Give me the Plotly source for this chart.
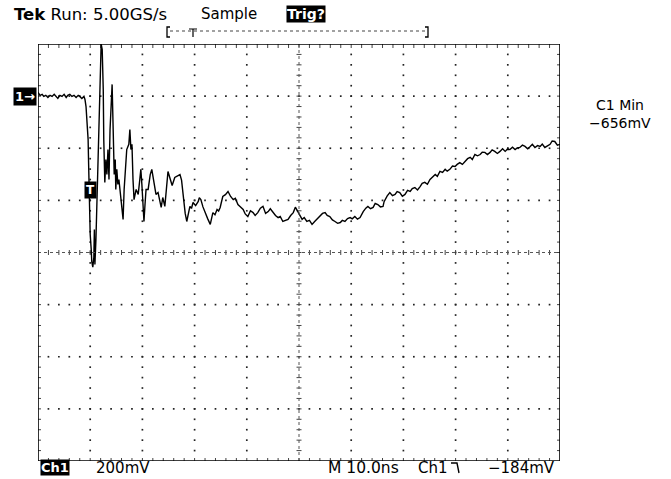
import plotly.graph_objects as go

# ---------------- data (read from the scope screen) ----------------
# time relative to trigger in ns (10 ns/div), Ch1 amplitude in mV (200 mV/div)
time_ns = [
    -10.0, -9.6, -9.2, -8.9, -8.5, -8.1, -7.7, -7.3, -6.9, -6.6, -6.2, -5.8, -5.4,
    -5.0, -4.6, -4.3, -3.9, -3.5, -3.1, -2.7, -2.3, -2.0, -1.6, -1.2, -1.0,
    -0.8, -0.6, -0.4, -0.3, -0.2, 0.0, 0.2, 0.3, 0.5, 0.7, 0.8, 0.9, 1.1, 1.3,
    1.5, 1.7, 1.9, 2.1, 2.3, 2.5, 2.6, 2.7, 2.8, 3.0, 3.2, 3.4, 3.6, 3.8, 4.0,
    4.2, 4.4, 4.6, 4.8, 4.9, 5.1, 5.3, 5.5, 5.9, 6.1, 6.3, 6.5, 6.7, 7.0, 7.4,
    7.6, 7.8, 8.0, 8.2, 8.4, 8.8, 9.2, 9.5, 9.7, 9.9, 10.1, 10.3, 10.5, 10.7,
    11.1, 11.5, 11.8, 12.2, 12.4, 12.6, 13.0, 13.6, 13.9, 14.3, 14.9, 15.7, 16.2,
    17.2, 17.5, 17.8, 18.2, 18.5, 18.8, 19.1, 19.4, 19.7, 20.2, 20.7, 20.9, 21.2,
    21.6, 22.0, 22.5, 23.0, 23.2, 23.5, 23.9, 24.3, 24.6, 24.9, 25.1, 25.4, 25.9,
    26.4, 26.9, 27.4, 27.8, 28.3, 28.8, 29.3, 29.7, 30.2, 30.7, 31.2, 31.6, 32.1,
    32.6, 33.1, 33.6, 34.1, 34.5, 35.0, 35.5, 36.0, 36.4, 36.9, 37.4, 37.9, 38.4,
    38.9, 39.3, 39.8, 40.2, 40.6, 41.0, 41.5, 42.0, 42.5, 43.0, 43.4, 43.7, 44.0,
    44.5, 45.0, 45.4, 45.9, 46.4, 46.9, 47.4, 47.9, 48.3, 48.8, 49.3, 49.8, 50.2,
    50.7, 51.2, 51.7, 52.0, 52.3, 52.8, 53.2, 53.7, 54.2, 54.6, 55.1, 55.6, 56.1,
    56.3, 56.5, 56.9, 57.4, 57.9, 58.4, 58.8, 59.3, 59.8, 60.3, 60.8, 61.3, 61.7,
    62.2, 62.7, 63.2, 63.6, 64.1, 64.6, 65.1, 65.6, 66.1, 66.5, 67.0, 67.5, 68.0,
    68.4, 68.9, 69.4, 69.9, 70.3, 70.8, 71.3, 71.8, 72.3, 72.8, 73.2, 73.7, 74.2,
    74.7, 75.1, 75.6, 76.1, 76.6, 77.0, 77.5, 78.0, 78.5, 79.0, 79.5, 79.9, 80.4,
    80.9, 81.4, 81.8, 82.3, 82.8, 83.3, 83.8, 84.3, 84.7, 85.2, 85.7, 86.2, 86.6,
    87.1, 87.6, 88.1, 88.5, 89.0, 89.5, 90.0,
]
ch1_mV = [
    14, 3, 7, -1, 3, -5, 3, -1, 7, -1, -9, 3, -1,
    7, -5, 3, 7, -1, 3, -5, 3, -1, -9, -1, -13,
    -40, -89, -166, -262, -397, -531, -589, -635, -656, -619, -512, -646, -550, -397,
    -205, -13, 141, 200, 179, 26, -166, -281, -331, -243, -301, -205, -320, -128, -13,
    45, -128, -301, -243, -358, -281, -339, -320, -397, -435, -473, -358, -301, -205, -185,
    -128, -205, -185, -320, -397, -358, -377, -320, -281, -339, -397, -481, -416, -358,
    -358, -301, -281, -339, -358, -377, -370, -427, -389, -423, -289, -343, -312,
    -301, -322, -385, -450, -481, -455, -423, -431, -408, -420, -404, -390, -397,
    -425, -447, -470, -492, -476, -447, -455, -435, -441, -427, -410, -385, -378,
    -366, -385, -397, -392, -416, -425, -435, -452, -462, -440, -447, -458, -447,
    -430, -423, -450, -443, -432, -447, -458, -466, -462, -481, -476, -473, -458,
    -447, -426, -443, -460, -473, -466, -481, -477, -492, -481, -473, -466, -462,
    -450, -447, -458, -462, -475, -481, -488, -485, -477, -481, -470, -466, -471,
    -462, -472, -466, -452, -443, -430, -423, -432, -427, -412, -416, -425, -423,
    -405, -397, -383, -370, -382, -377, -366, -370, -384, -377, -362, -366, -355,
    -351, -360, -347, -335, -331, -338, -320, -312, -301, -308, -289, -293, -281,
    -288, -281, -268, -270, -262, -255, -262, -251, -240, -235, -243, -224, -229,
    -224, -215, -216, -224, -216, -206, -212, -220, -212, -202, -212, -204, -205,
    -196, -205, -199, -197, -188, -193, -202, -193, -185, -197, -190, -193, -184,
    -197, -192, -185, -172, -174, -188, -185,
]

header_left = "<b>Tek</b> Run: 5.00GS/s"
header_mode = "Sample"
header_trig = "<b>Trig?</b>"
meas_label = "C1 Min"
meas_value = "\u2212656mV"
ch_label = "Ch1"
ch_scale = "200mV"
time_scale = "M 10.0ns"
trig_src = "Ch1"
trig_level = "\u2212184mV"

# ---------------- screen geometry ----------------
W, H = 671, 479
L, R, T, B = 38, 560, 44, 461           # graticule frame in pixels
XMIN, XMAX = -10.0, 90.0                # 10 divisions x 10 ns
YMIN, YMAX = -1400.0, 200.0             # 8 divisions x 200 mV
XDIV, YDIV = 10.0, 200.0
XC, YC = 40.0, -600.0                   # screen centre in data units
px_x = (XMAX - XMIN) / (R - L)          # ns per pixel
px_y = (YMAX - YMIN) / (B - T)          # mV per pixel


def PX(p):
    return (p - L) / (R - L)


def PY(p):
    return (B - p) / (B - T)


FONT = "DejaVu Sans"

fig = go.Figure()

# --- grid dots on the major division lines ---
gx, gy = [], []
for i in range(1, 10):
    if i == 5:
        continue
    xv = XMIN + i * XDIV
    for k in range(1, 40):
        gx.append(xv)
        gy.append(YMIN + k * YDIV / 5)
for j in range(1, 8):
    if j == 4:
        continue
    yv = YMIN + j * YDIV
    for k in range(1, 50):
        gx.append(XMIN + k * XDIV / 5)
        gy.append(yv)
fig.add_trace(go.Scatter(x=gx, y=gy, mode="markers",
                         marker=dict(symbol="square", size=1.7, color="#222222", line_width=0),
                         hoverinfo="skip", showlegend=False))

# --- tick marks: centre cross and frame edges ---
tx, ty = [], []
for k in range(1, 50):
    xv = XMIN + k * XDIV / 5
    # centre horizontal axis
    tx += [xv, xv, None]; ty += [YC - 2.5 * px_y, YC + 2.5 * px_y, None]
    # top edge (down)
    tx += [xv, xv, None]; ty += [YMAX, YMAX - 4 * px_y, None]
    # bottom edge (up)
    tx += [xv, xv, None]; ty += [YMIN, YMIN + 3 * px_y, None]
for k in range(1, 40):
    yv = YMIN + k * YDIV / 5
    # centre vertical axis
    tx += [XC - 2.5 * px_x, XC + 2.5 * px_x, None]; ty += [yv, yv, None]
    # left / right edges
    tx += [XMIN, XMIN + 3 * px_x, None]; ty += [yv, yv, None]
    tx += [XMAX, XMAX - 3 * px_x, None]; ty += [yv, yv, None]
fig.add_trace(go.Scatter(x=tx, y=ty, mode="lines",
                         line=dict(color="#444444", width=1),
                         hoverinfo="skip", showlegend=False))

# --- waveform ---
fig.add_trace(go.Scatter(x=time_ns, y=ch1_mV, mode="lines",
                         line=dict(color="black", width=1.4),
                         hoverinfo="skip", showlegend=False, cliponaxis=True))

shapes = [
    # centre cross (fine dotted)
    dict(type="line", xref="x", yref="y", x0=XMIN, x1=XMAX, y0=YC, y1=YC,
         line=dict(color="#555555", width=1, dash="dot")),
    dict(type="line", xref="x", yref="y", x0=XC, x1=XC, y0=YMIN, y1=YMAX,
         line=dict(color="#555555", width=1, dash="dot")),
    # frame
    dict(type="rect", xref="x", yref="y", x0=XMIN, x1=XMAX, y0=YMIN, y1=YMAX,
         line=dict(color="black", width=1.6), layer="above"),
    # record bracket at top
    dict(type="line", xref="paper", yref="paper", x0=PX(170), x1=PX(426), y0=PY(31), y1=PY(31),
         line=dict(color="#444444", width=1, dash="dot")),
    dict(type="path", xref="paper", yref="paper",
         path=f"M {PX(170)},{PY(27)} L {PX(167)},{PY(27)} L {PX(167)},{PY(37)} L {PX(170)},{PY(37)}",
         line=dict(color="black", width=1.3)),
    dict(type="path", xref="paper", yref="paper",
         path=f"M {PX(425)},{PY(27)} L {PX(428)},{PY(27)} L {PX(428)},{PY(37)} L {PX(425)},{PY(37)}",
         line=dict(color="black", width=1.3)),
    dict(type="path", xref="paper", yref="paper",
         path=f"M {PX(189)},{PY(29)} L {PX(197)},{PY(29)} M {PX(193)},{PY(29)} L {PX(193)},{PY(37)}",
         line=dict(color="black", width=1.2)),
    # falling-edge trigger slope symbol
    dict(type="path", xref="paper", yref="paper",
         path=f"M {PX(451)},{PY(463)} L {PX(457)},{PY(463)} L {PX(459)},{PY(473)}",
         line=dict(color="black", width=1.4)),
]

ann = []


def text(s, x, y, anchor="left", size=15, color="black", bg=None, pad=0, yref="paper", xref="paper"):
    ann.append(dict(text=s, x=x, y=y, xref=xref, yref=yref, xanchor=anchor, yanchor="middle",
                    showarrow=False, font=dict(family=FONT, size=size, color=color),
                    bgcolor=bg, borderpad=pad))


text(header_left, PX(13), PY(14), size=16.5)
text(header_mode, PX(200), PY(14))
text(header_trig, PX(306), PY(14), anchor="center", size=14, color="white", bg="black", pad=0)
text(meas_label, PX(620), PY(105), anchor="center", size=14)
text(meas_value, PX(620), PY(123), anchor="center", size=14)
text("<b>" + ch_label + "</b>", PX(55), PY(468), anchor="center", size=13, color="white", bg="black", pad=0)
text(ch_scale, PX(95), PY(468))
text(time_scale, PX(327), PY(468), size=15.5)
text(trig_src, PX(417), PY(468))
text(trig_level, PX(487), PY(468))
# channel ground marker and trigger marker
text("<b>1\u2192</b>", PX(37), 0, anchor="right", size=13, color="white", bg="black", pad=1, yref="y")
text("<b>T</b>", 0, -360, anchor="center", size=12, color="white", bg="black", pad=1, yref="y", xref="x")

fig.update_layout(
    width=W, height=H,
    margin=dict(l=L, r=W - R, t=T, b=H - B, pad=0),
    paper_bgcolor="white", plot_bgcolor="white",
    xaxis=dict(range=[XMIN, XMAX], visible=False, fixedrange=True),
    yaxis=dict(range=[YMIN, YMAX], visible=False, fixedrange=True),
    shapes=shapes, annotations=ann, showlegend=False,
)

fig.write_html("out.html")
